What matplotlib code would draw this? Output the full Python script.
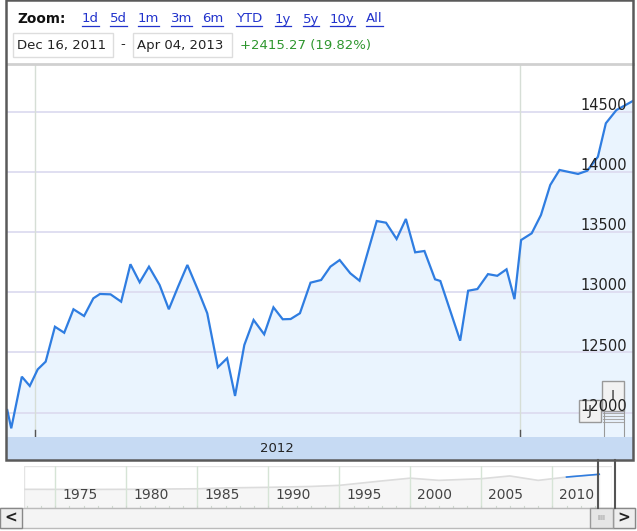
import numpy as np
import pandas as pd
import matplotlib
matplotlib.use("Agg")
from matplotlib import pyplot as plt
import matplotlib.dates as mdates
from matplotlib.patches import Rectangle
from matplotlib.lines import Line2D

plt.rcParams['font.family'] = ['DejaVu Sans']

# weekly closes
dates = ['2011-12-11', '2011-12-14', '2011-12-22', '2011-12-28', '2012-01-03', '2012-01-09',
         '2012-01-16', '2012-01-23', '2012-01-30', '2012-02-07', '2012-02-14', '2012-02-19',
         '2012-02-27', '2012-03-06', '2012-03-13', '2012-03-20', '2012-03-27', '2012-04-04',
         '2012-04-11', '2012-04-18', '2012-04-25', '2012-05-03', '2012-05-10', '2012-05-18',
         '2012-05-25', '2012-05-31', '2012-06-07', '2012-06-14', '2012-06-22', '2012-06-29',
         '2012-07-06', '2012-07-12', '2012-07-19', '2012-07-27', '2012-08-04', '2012-08-11',
         '2012-08-18', '2012-08-26', '2012-09-02', '2012-09-15', '2012-09-22', '2012-09-30',
         '2012-10-07', '2012-10-14', '2012-10-21', '2012-10-29', '2012-11-02', '2012-11-17',
         '2012-11-23', '2012-11-30', '2012-12-08', '2012-12-15', '2012-12-22', '2012-12-28',
         '2013-01-02', '2013-01-10', '2013-01-17', '2013-01-24', '2013-01-31', '2013-02-06',
         '2013-02-14', '2013-02-21', '2013-03-01', '2013-03-07', '2013-03-15', '2013-03-22',
         '2013-03-28']
values = [12022, 11870, 12299, 12222, 12360, 12424,
          12714, 12664, 12859, 12803, 12950, 12986,
          12983, 12922, 13233, 13083, 13213, 13061,
          12859, 13047, 13227, 13019, 12826, 12377,
          12452, 12139, 12562, 12770, 12651, 12875,
          12776, 12778, 12826, 13080, 13102, 13213,
          13268, 13158, 13096, 13592, 13578, 13443,
          13609, 13332, 13343, 13108, 13094, 12598,
          13013, 13027, 13151, 13137, 13191, 12943,
          13434, 13490, 13642, 13891, 14016, 14002,
          13983, 14010, 14126, 14404, 14514, 14556,
          14593]
y_ticks = [12000, 12500, 13000, 13500, 14000, 14500]
year_lines = ['2012-01-01', '2013-01-01']
zoom_links = ['1d', '5d', '1m', '3m', '6m', 'YTD', '1y', '5y', '10y', 'All']
start_label = 'Dec 16, 2011'
end_label = 'Apr 04, 2013'
change_label = '+2415.27 (19.82%)'

# overview strip (long history, rough)
nav_years = [1972.8, 1975, 1978, 1980, 1983, 1985, 1987, 1990, 1993, 1995, 1998, 2000,
             2002, 2005, 2007, 2009, 2011, 2013.3]
nav_vals = [900, 850, 820, 900, 1200, 1400, 2200, 2700, 3500, 4500, 8500, 11000,
            9000, 10500, 13000, 9000, 12000, 14500]
nav_labels = [1975, 1980, 1985, 1990, 1995, 2000, 2005, 2010]

W, H = 637, 531
fig = plt.figure(figsize=(W / 100, H / 100), dpi=100)


def box(x0, y0, x1, y1):
    # pixel box (top-left origin) -> figure fraction rect
    return [x0 / W, 1 - y1 / H, (x1 - x0) / W, (y1 - y0) / H]


def px(x, y):
    return x / W, 1 - y / H


x = mdates.datestr2num(dates)
x_left = mdates.datestr2num('2011-12-11') - 0.2
x_right = mdates.datestr2num('2013-03-28') - 0.5
y_low, y_high = 11798, 14888

# main plot
ax = fig.add_axes(box(7, 65, 633, 437))
ax.set_xlim(x_left, x_right)
ax.set_ylim(y_low, y_high)
ax.fill_between(x, values, y_low, color='#eaf4fe', zorder=1)
for v in y_ticks:
    ax.axhline(v, color='#dddcf0', lw=1.3, zorder=2)
for d in year_lines:
    ax.axvline(mdates.datestr2num(d), color='#d6ded6', lw=1.0, zorder=2)
    ax.plot([mdates.datestr2num(d)] * 2, [y_low, y_low + 60], color='#555555', lw=1.0, zorder=3)
ax.plot(x, values, color='#2f7de1', lw=1.6, zorder=4, solid_joinstyle='miter')
for v in y_ticks:
    ax.text((627 - 7) / 626, v - 10, str(v), transform=ax.get_yaxis_transform(),
            ha='right', va='bottom', fontsize=10.5, color='#222222', zorder=6)
ax.set_axis_off()

# annotation flags, bottom right (under the tick labels, as in the original)
tf = fig.transFigure
ax.add_patch(Rectangle(px(602, 411), 22 / W, 30 / H, transform=tf, facecolor='#f2f2f2',
                       edgecolor='#999999', lw=1, zorder=4.5, clip_on=False))
for yy in range(413, 425, 3):
    ax.add_line(Line2D([603 / W, 623 / W], [1 - yy / H] * 2, transform=tf,
                       color='#aaaaaa', lw=0.8, zorder=4.5, clip_on=False))
for xx in [604, 624]:
    ax.add_line(Line2D([xx / W] * 2, [1 - 411 / H, 1 - 437 / H], transform=tf,
                       color='#999999', lw=0.8, zorder=4.5, clip_on=False))
ax.add_patch(Rectangle(px(579, 422), 22 / W, 22 / H, transform=tf, facecolor='#f2f2f2',
                       edgecolor='#999999', lw=1, zorder=4.6, clip_on=False))
ax.text(*px(613, 396), 'I', transform=tf, ha='center', va='center', fontsize=10,
        color='#333333', zorder=4.7)
ax.text(*px(590, 411), 'J', transform=tf, ha='center', va='center', fontsize=10,
        color='#333333', zorder=4.7)

# year band
band = fig.add_axes(box(7, 437, 633, 460))
band.set_xlim(x_left, x_right)
band.set_ylim(0, 1)
band.add_patch(Rectangle((0, 0), 1, 1, transform=band.transAxes, color='#c6daf3'))
mid = (mdates.datestr2num(year_lines[0]) + mdates.datestr2num(year_lines[1])) / 2
band.text(mid, 0.5, '2012', ha='center', va='center', fontsize=9.5, color='#222222')
band.set_axis_off()

# frame lines
fig.lines.append(Line2D([7 / W, 633 / W], [1 - 64 / H] * 2, transform=tf,
                        color='#d0d0d0', lw=2))
fig.patches.append(Rectangle(px(6, 460), 627 / W, 460 / H, transform=tf,
                             fill=False, edgecolor='#5a5a5a', lw=1.8, zorder=8))

# header
fig.text(*px(17, 19), 'Zoom:', fontsize=9.8, fontweight='bold', va='center', color='#111111')
link_x = [82, 110, 138, 171, 202, 236, 275, 303, 330, 366]
renderer = fig.canvas.get_renderer()
for lx, lab in zip(link_x, zoom_links):
    t = fig.text(*px(lx, 19), lab, fontsize=9.5, va='center', color='#2233cc')
    bb = t.get_window_extent(renderer)
    fig.lines.append(Line2D([bb.x0 / W, bb.x1 / W], [1 - 26 / H] * 2,
                            transform=tf, color='#2233cc', lw=0.9))
for x0, x1, lab in [(13, 113, start_label), (133, 232, end_label)]:
    fig.patches.append(Rectangle(px(x0, 57), (x1 - x0) / W, 24 / H, transform=tf,
                                 facecolor='white', edgecolor='#dddddd', lw=1))
    fig.text(*px(x0 + 4, 45), lab, fontsize=9.5, va='center', color='#222222')
fig.text(*px(120, 45), '-', fontsize=9.5, va='center', color='#222222')
fig.text(*px(240, 45), change_label, fontsize=9.5, va='center', color='#2e962e')

# overview navigator
nav = fig.add_axes(box(24, 466, 612, 508))
nav.set_xlim(1972.8, 2014.2)
nav.set_ylim(-16000, 22000)
nav.fill_between(nav_years, nav_vals, -16000, color='#f6f6f6')
nav.plot(nav_years, nav_vals, color='#dcdcdc', lw=1.2)
sel = [yr >= 2011 for yr in nav_years]
nav.plot([yr for yr, s in zip(nav_years, sel) if s], [v for v, s in zip(nav_vals, sel) if s],
         color='#2f7de1', lw=1.2)
for yr in nav_labels:
    nav.axvline(yr, color='#d6e4d6', lw=1)
    nav.text(yr + 0.5, -11000, str(yr), fontsize=10, color='#444444', va='bottom')
for yr in range(1973, 2014):
    nav.plot([yr, yr], [-16000, -14000], color='#cfd8cf', lw=0.8)
nav.add_patch(Rectangle((0, 0), 1, 1, transform=nav.transAxes, fill=False,
                        edgecolor='#e4e4e4', lw=1))
nav.set_axis_off()

# selection handles joining the main chart to the navigator
for xx in [598, 615]:
    fig.lines.append(Line2D([xx / W] * 2, [1 - 460 / H, 1 - 508 / H], transform=tf,
                            color='#555555', lw=1.5, zorder=8))

# scrollbar
fig.patches.append(Rectangle(px(0, 528), 635 / W, 20 / H, transform=tf,
                             facecolor='#f4f4f4', edgecolor='#bbbbbb', lw=1))
for x0, arrow in [(0, '<'), (613, '>')]:
    fig.patches.append(Rectangle(px(x0, 528), 22 / W, 20 / H, transform=tf,
                                 facecolor='#eeeeee', edgecolor='#888888', lw=1))
    fig.text(*px(x0 + 11, 518), arrow, ha='center', va='center', fontsize=11,
             fontweight='bold', color='#222222')
fig.patches.append(Rectangle(px(590, 528), 23 / W, 20 / H, transform=tf,
                             facecolor='#e6e6e6', edgecolor='#999999', lw=1))
fig.text(*px(601, 518), 'IIII', ha='center', va='center', fontsize=5, color='#888888')

fig.savefig('out.png', dpi=100)
